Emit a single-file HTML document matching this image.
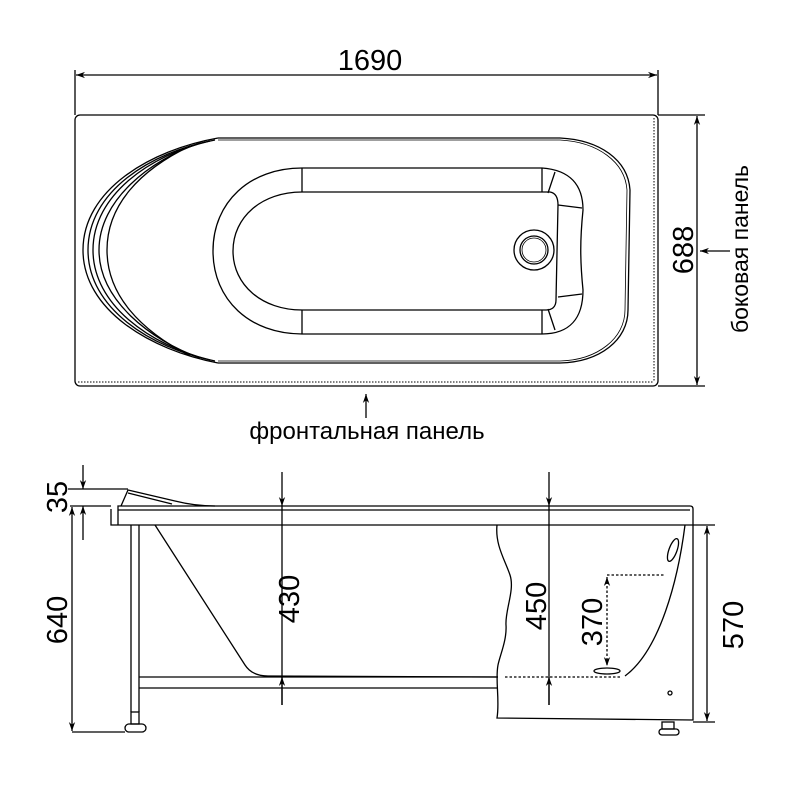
<!DOCTYPE html>
<html><head><meta charset="utf-8"><style>html,body{margin:0;padding:0;background:#fff}svg{display:block}</style></head><body>
<svg width="800" height="800" viewBox="0 0 800 800" xmlns="http://www.w3.org/2000/svg" font-family="Liberation Sans, sans-serif">
<defs>
<marker id="a" viewBox="0 0 10 10" refX="10" refY="5" markerWidth="9" markerHeight="9" orient="auto-start-reverse" markerUnits="userSpaceOnUse"><path d="M0,1.5 L10,5 L0,8.5 L3,5 Z" fill="#000"/></marker>
</defs>
<g fill="none" stroke="#000" stroke-width="1.3">
<line x1="75" y1="70" x2="75" y2="115"/><line x1="658" y1="70" x2="658" y2="115"/>
<line x1="76" y1="75" x2="657" y2="75" marker-start="url(#a)" marker-end="url(#a)"/>
<rect x="75" y="115" width="583" height="271" rx="5"/>
<line x1="78" y1="382" x2="654" y2="382" stroke-dasharray="1.5,1.5" stroke-width="1"/>
<line x1="654" y1="118" x2="654" y2="382" stroke-dasharray="1.5,1.5" stroke-width="1"/>
<line x1="658" y1="115" x2="705" y2="115"/><line x1="658" y1="386" x2="705" y2="386"/>
<line x1="697" y1="116" x2="697" y2="385" marker-start="url(#a)" marker-end="url(#a)"/>
<line x1="730" y1="251" x2="700" y2="251" marker-end="url(#a)"/>
<line x1="366" y1="418" x2="366" y2="394" marker-end="url(#a)"/>
<path d="M218,138 L560,138 C600,140 628,160 630,190 L628,310 C628,340 600,362 560,363 L218,363"/>
<path d="M218,140 L560,140 C598,142 625,162 627,190 L625,310 C625,338 598,360 560,361 L218,361" stroke-width="0.8"/>
<path d="M218,138 C150,150 83,190 83,250 C83,310 150,350 218,363"/>
<path d="M215,140 C150,152 88,192 88,250 C88,308 150,348 215,361"/>
<path d="M210,141 C150,155 93,195 93,250 C93,305 150,345 210,360"/>
<path d="M200,143 C150,160 99,200 99,250 C99,300 150,340 200,358"/>
<path d="M190,146 C140,170 107,205 107,250 C107,295 140,330 190,356"/>
<path d="M302,168 L542,168 C570,170 583,185 583,210 C580,240 580,260 583,290 C583,318 570,334 542,334 L302,334 C250,334 213,300 213,251 C213,202 250,168 302,168 Z"/>
<path d="M302,192 L550,192 C556,193 558,198 558,205 L556,300 C556,307 552,310 546,310 L302,310 C262,310 233,285 233,251 C233,217 262,192 302,192 Z"/>
<line x1="302" y1="168" x2="302" y2="192"/><line x1="302" y1="310" x2="302" y2="334"/>
<line x1="542" y1="168" x2="542" y2="192"/><line x1="542" y1="310" x2="542" y2="334"/>
<line x1="555" y1="172" x2="548" y2="193"/><line x1="555" y1="330" x2="548" y2="309"/>
<line x1="558" y1="205" x2="582" y2="208"/><line x1="558" y1="297" x2="582" y2="294"/>
<circle cx="534" cy="250" r="20"/><circle cx="534" cy="250" r="14"/><circle cx="534" cy="250" r="12" stroke-width="0.8"/>
<path d="M111,509 L111,525 L693,525 L693,509 Q693,506 690,506 L118,506 L118,525"/>
<line x1="118" y1="510" x2="690" y2="510"/>
<path d="M121,506 L128,490 L175,501 Q195,506 215,506"/>
<path d="M128,493 L172,504"/>
<line x1="131" y1="525" x2="131" y2="712"/><line x1="139" y1="525" x2="139" y2="712"/>
<rect x="131" y="712" width="8" height="12"/>
<rect x="125" y="724" width="21" height="8" rx="4"/>
<line x1="139" y1="677" x2="498" y2="677"/><line x1="139" y1="688" x2="498" y2="688"/>
<path d="M155,525 L245,665 Q252,676 268,676 L498,677"/>
<path d="M497,525 C495,545 505,560 510,575 C515,590 505,610 506,625 C507,640 500,655 498,665 C495,680 500,700 497,718 L693,720 L693,525"/>
<rect x="662" y="722" width="12" height="7"/>
<rect x="659" y="729" width="20" height="6" rx="3"/>
<path d="M685,525 C678,580 660,650 625,676"/>
<line x1="505" y1="677" x2="622" y2="677" stroke-dasharray="2.5,2"/>
<line x1="607" y1="575" x2="665" y2="575" stroke-dasharray="2.5,2"/>
<line x1="607" y1="577" x2="607" y2="666" stroke-dasharray="2.5,2" marker-start="url(#a)" marker-end="url(#a)"/>
<ellipse cx="673" cy="550" rx="4" ry="12" transform="rotate(20 673 550)"/>
<ellipse cx="607" cy="671" rx="13" ry="3"/>
<circle cx="670" cy="693" r="2"/>
<line x1="68" y1="489" x2="128" y2="489"/>
<line x1="70" y1="506" x2="111" y2="506"/>
<line x1="72" y1="732" x2="125" y2="732"/>
<line x1="83" y1="465" x2="83" y2="489" marker-end="url(#a)"/>
<line x1="83" y1="540" x2="83" y2="506" marker-end="url(#a)"/>
<line x1="72" y1="507" x2="72" y2="731" marker-start="url(#a)" marker-end="url(#a)"/>
<line x1="282" y1="472" x2="282" y2="506" marker-end="url(#a)"/>
<line x1="282" y1="506" x2="282" y2="705"/>
<line x1="282" y1="705" x2="282" y2="677" marker-end="url(#a)"/>
<line x1="549" y1="472" x2="549" y2="506" marker-end="url(#a)"/>
<line x1="549" y1="506" x2="549" y2="705"/>
<line x1="549" y1="705" x2="549" y2="677" marker-end="url(#a)"/>
<line x1="693" y1="525" x2="715" y2="525"/><line x1="693" y1="722" x2="715" y2="722"/>
<line x1="707" y1="526" x2="707" y2="721" marker-start="url(#a)" marker-end="url(#a)"/>
</g>
<g fill="#000" font-size="29">
<text x="370" y="70" text-anchor="middle">1690</text>
<text transform="translate(693,250) rotate(-90)" text-anchor="middle">688</text>
<text transform="translate(748,249) rotate(-90)" text-anchor="middle" font-size="23">боковая панель</text>
<text x="367" y="439" text-anchor="middle" font-size="24">фронтальная панель</text>
<text transform="translate(67,497) rotate(-90)" text-anchor="middle">35</text>
<text transform="translate(67,620) rotate(-90)" text-anchor="middle">640</text>
<text transform="translate(299,599) rotate(-90)" text-anchor="middle">430</text>
<text transform="translate(546,606) rotate(-90)" text-anchor="middle">450</text>
<text transform="translate(602,622) rotate(-90)" text-anchor="middle">370</text>
<text transform="translate(743,625) rotate(-90)" text-anchor="middle">570</text>
</g>
</svg>
</body></html>
